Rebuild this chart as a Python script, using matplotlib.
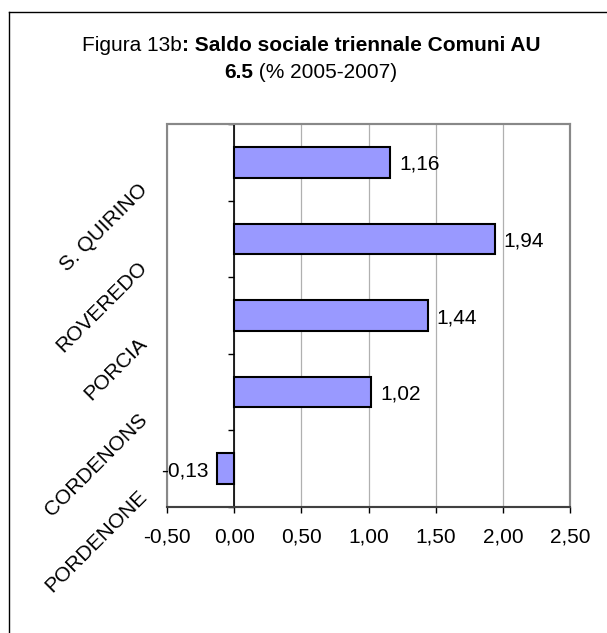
import numpy as np
import matplotlib
matplotlib.use("Agg")
import matplotlib.pyplot as plt
from matplotlib.patches import Rectangle
from matplotlib.lines import Line2D
from matplotlib.offsetbox import TextArea, HPacker, VPacker, AnchoredOffsetbox

plt.rcParams['font.family'] = ['Liberation Sans', 'DejaVu Sans']
plt.rcParams['font.size'] = 15

# data, bottom to top as drawn
comuni = ["PORDENONE", "CORDENONS", "PORCIA", "ROVEREDO", "S. QUIRINO"]
saldo = [-0.13, 1.02, 1.44, 1.94, 1.16]
x_ticks = [-0.5, 0.0, 0.5, 1.0, 1.5, 2.0, 2.5]

W, H = 607, 633
fig = plt.figure(figsize=(W / 100, H / 100), dpi=100)
fig.patch.set_facecolor("white")

# outer frame (only left and top edges visible)
fig.add_artist(Line2D([9 / W, 9 / W], [0, 1 - 12 / H], color="black", lw=1.0))
fig.add_artist(Line2D([9 / W, 1], [1 - 12 / H, 1 - 12 / H], color="black", lw=1.0))

ax = fig.add_axes([167 / W, 126 / H, 403 / W, 383 / H])

y = np.arange(len(comuni))
ax.barh(y, saldo, height=0.4, color="#9999FF", edgecolor="black", linewidth=1.5, zorder=3)

ax.set_xlim(-0.5, 2.5)
ax.set_ylim(-0.5, len(comuni) - 0.5)

ax.set_xticks(x_ticks)
ax.set_xticklabels([f"{t:.2f}".replace(".", ",") for t in x_ticks])
ax.tick_params(axis="x", direction="out", length=4, width=1, pad=10.5, colors="black")

# category axis sits on zero
ax.spines["left"].set_position(("data", 0))
ax.spines["left"].set_color("black")
ax.spines["left"].set_linewidth(1.2)
ax.set_yticks(np.arange(-0.5, len(comuni), 1.0))
ax.set_yticklabels([])
ax.tick_params(axis="y", direction="out", length=4, width=1, colors="black")

for s in ["top", "right"]:
    ax.spines[s].set_color("#888888")
    ax.spines[s].set_linewidth(1.5)
ax.spines["bottom"].set_color("#404040")
ax.spines["bottom"].set_linewidth(1.5)
ax.add_patch(Rectangle((0, 0), 1, 1, transform=ax.transAxes, fill=False,
                       edgecolor="#888888", lw=1.5, zorder=1, clip_on=False))

ax.xaxis.grid(True, color="#b0b0b0", lw=0.9)
ax.set_axisbelow(True)

# category labels, rotated
for i, name in enumerate(comuni):
    ax.text(-0.04, i - 0.24, name, transform=ax.get_yaxis_transform(),
            rotation=45, ha="right", va="top")

# value labels
for i, v in enumerate(saldo):
    lab = f"{v:.2f}".replace(".", ",")
    if v >= 0:
        ax.annotate(lab, (v, i), xytext=(6.5, -5.4), textcoords="offset points",
                    ha="left", va="baseline")
    else:
        ax.annotate(lab, (v, i), xytext=(-5.5, -5.4), textcoords="offset points",
                    ha="right", va="baseline")

# title with mixed weights
line1 = HPacker(children=[TextArea("Figura 13b", textprops=dict(size=15)),
                          TextArea(": Saldo sociale triennale Comuni AU",
                                   textprops=dict(size=15, weight="bold"))],
                pad=0, sep=0, align="baseline")
line2 = HPacker(children=[TextArea("6.5", textprops=dict(size=15, weight="bold")),
                          TextArea(" (% 2005-2007)", textprops=dict(size=15))],
                pad=0, sep=0, align="baseline")
title = VPacker(children=[line1, line2], align="center", pad=0, sep=6)
box = AnchoredOffsetbox(loc="center", child=title, frameon=False,
                        bbox_to_anchor=(311 / W, 1 - 59 / H),
                        bbox_transform=fig.transFigure, borderpad=0, pad=0)
fig.add_artist(box)

fig.savefig("out.png", dpi=100, facecolor="white")
